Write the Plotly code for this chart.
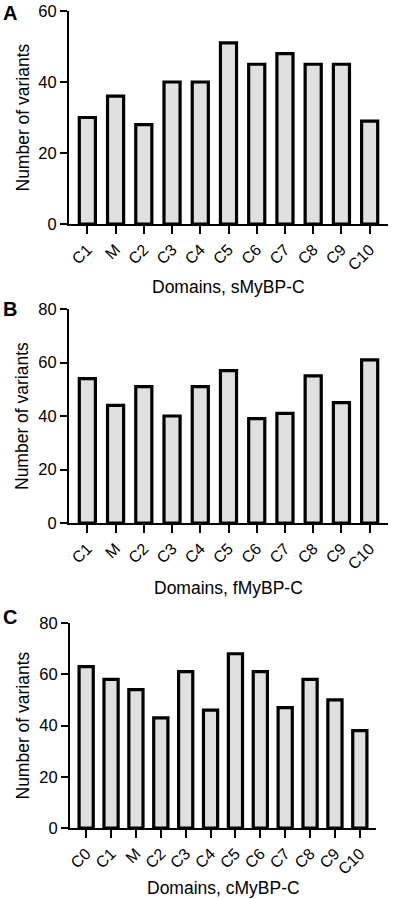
import plotly.graph_objects as go

# ---- data ----
cats_s = ["C1", "M", "C2", "C3", "C4", "C5", "C6", "C7", "C8", "C9", "C10"]
vals_s = [30, 36, 28, 40, 40, 51, 45, 48, 45, 45, 29]

cats_f = ["C1", "M", "C2", "C3", "C4", "C5", "C6", "C7", "C8", "C9", "C10"]
vals_f = [54, 44, 51, 40, 51, 57, 39, 41, 55, 45, 61]

cats_c = ["C0", "C1", "M", "C2", "C3", "C4", "C5", "C6", "C7", "C8", "C9", "C10"]
vals_c = [63, 58, 54, 43, 61, 46, 68, 61, 47, 58, 50, 38]

x_titles = ["Domains, sMyBP-C", "Domains, fMyBP-C", "Domains, cMyBP-C"]
y_title = "Number of variants"
letters = ["A", "B", "C"]
y_ticks_a = [0, 20, 40, 60]
y_ticks_bc = [0, 20, 40, 60, 80]

# ---- layout (pixel geometry) ----
W, H = 394, 899
FONT = "Liberation Sans, Arial, Helvetica, sans-serif"

panels = [
    dict(cats=cats_s, vals=vals_s, ticks=y_ticks_a, x0=69, x1=388, ytop=11, ybot=224,
         xt_y=287, letter_y=13),
    dict(cats=cats_f, vals=vals_f, ticks=y_ticks_bc, x0=69, x1=388, ytop=309, ybot=523,
         xt_y=588, letter_y=309),
    dict(cats=cats_c, vals=vals_c, ticks=y_ticks_bc, x0=70, x1=376, ytop=623, ybot=828,
         xt_y=888, letter_y=617),
]

fig = go.Figure()
annotations = []
for i, p in enumerate(panels):
    n = i + 1
    xa = "x" if n == 1 else f"x{n}"
    ya = "y" if n == 1 else f"y{n}"
    fig.add_trace(go.Bar(
        x=p["cats"], y=p["vals"], xaxis=xa, yaxis=ya,
        width=0.57,
        marker=dict(color="#e0e0e0", line=dict(color="black", width=3.2)),
        showlegend=False,
    ))
    xdom = [p["x0"] / W, p["x1"] / W]
    ydom = [1 - p["ybot"] / H, 1 - p["ytop"] / H]
    ncat = len(p["cats"])
    xkey = "xaxis" if n == 1 else f"xaxis{n}"
    ykey = "yaxis" if n == 1 else f"yaxis{n}"
    fig.update_layout(**{
        xkey: dict(
            domain=xdom, anchor=ya, type="category",
            range=[-0.65, ncat - 1 + 0.65],
            showline=True, linecolor="black", linewidth=2,
            ticks="outside", ticklen=8, tickwidth=2, tickcolor="black",
            tickangle=-45, tickfont=dict(family=FONT, size=16, color="black"),
            showgrid=False, zeroline=False, automargin=False, fixedrange=True,
        ),
        ykey: dict(
            domain=ydom, anchor=xa,
            range=[0, p["ticks"][-1]], tickvals=p["ticks"],
            showline=True, linecolor="black", linewidth=2,
            ticks="outside", ticklen=7, tickwidth=2, tickcolor="black",
            tickfont=dict(family=FONT, size=16.5, color="black"),
            showgrid=False, zeroline=False, automargin=False, fixedrange=True,
        ),
    })
    # x axis title
    annotations.append(dict(
        text=x_titles[i], xref="paper", yref="paper",
        x=(p["x0"] + p["x1"]) / 2 / W, y=1 - p["xt_y"] / H,
        xanchor="center", yanchor="middle", showarrow=False,
        font=dict(family=FONT, size=17.5, color="black"),
    ))
    # y axis title
    annotations.append(dict(
        text=y_title, xref="paper", yref="paper",
        x=22 / W, y=1 - (p["ytop"] + p["ybot"]) / 2 / H,
        xanchor="center", yanchor="middle", textangle=-90, showarrow=False,
        font=dict(family=FONT, size=17.5, color="black"),
    ))
    # panel letter
    annotations.append(dict(
        text=f"<b>{letters[i]}</b>", xref="paper", yref="paper",
        x=10 / W, y=1 - p["letter_y"] / H,
        xanchor="center", yanchor="middle", showarrow=False,
        font=dict(family=FONT, size=20, color="black"),
    ))

fig.update_layout(
    width=W, height=H,
    margin=dict(l=0, r=0, t=0, b=0),
    paper_bgcolor="white", plot_bgcolor="white",
    annotations=annotations,
)

fig.write_html("out.html", post_script="document.body.style.margin='0';",
               config={"displayModeBar": False})
